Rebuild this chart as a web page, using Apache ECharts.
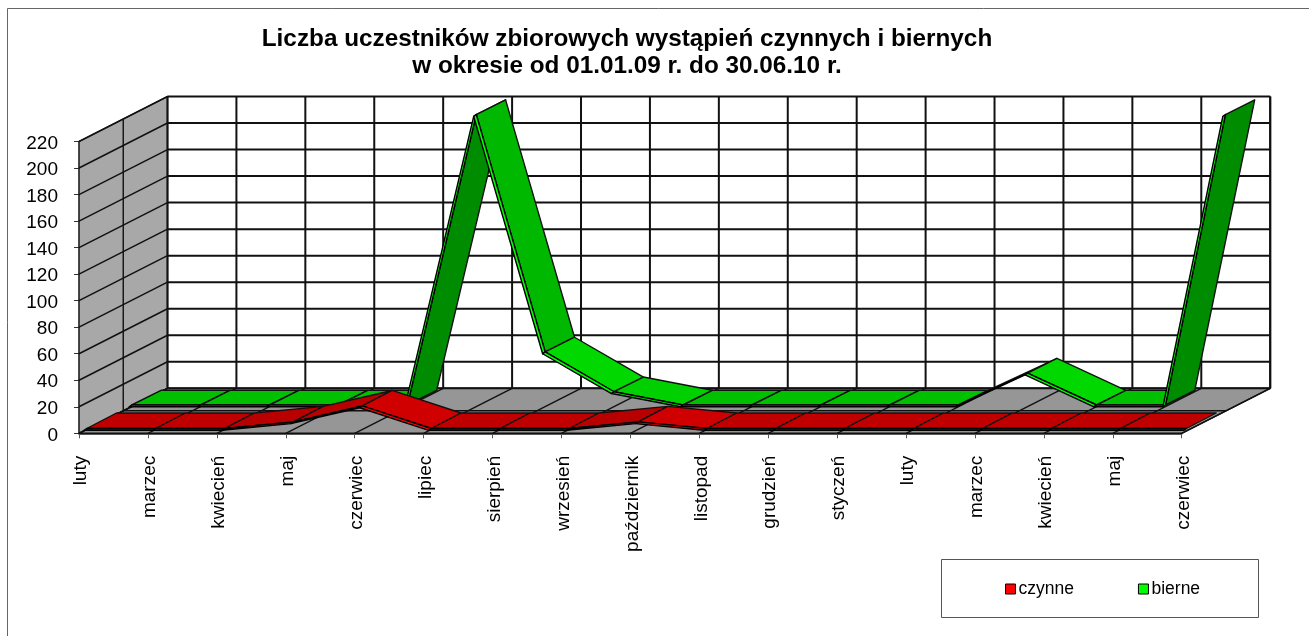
<!DOCTYPE html>
<html lang="pl">
<head>
    <meta charset="UTF-8">
    <title>Liczba uczestników</title>
    <script src="https://cdn.jsdelivr.net/npm/echarts@6/dist/echarts.min.js"></script>
    <style>
        html, body { margin: 0; padding: 0; background: #fff; }
    </style>
</head>
<body>
    <div id="main" style="width: 1309px; height: 636px;"></div>
    <script>
    var categories = ['luty','marzec','kwiecień','maj','czerwiec','lipiec','sierpień','wrzesień','październik','listopad','grudzień','styczeń','luty','marzec','kwiecień','maj','czerwiec'];
    var czynne = [0,0,0,5,17,0,0,0,5,0,0,0,0,0,0,0,0];
    var bierne = [0,0,0,0,0,219,40,10,0,0,0,0,0,24,0,0,219];
    var yMax = 220;
    var yStep = 20;

    var myChart = echarts.init(document.getElementById('main'));

    // przesuniecie glebokosci wykresu (tylna sciana wzgledem przedniej osi)
    var depthX = 88.5;
    var depthY = -45;

    function poly(points, fill, stroke, lw) {
        return {
            type: 'polygon',
            shape: { points: points },
            style: { fill: fill, stroke: stroke || '#000', lineWidth: lw === undefined ? 1 : lw, lineJoin: 'round' },
            silent: true
        };
    }
    function line(a, b, lw, color) {
        return {
            type: 'line',
            shape: { x1: a[0], y1: a[1], x2: b[0], y2: b[1] },
            style: { stroke: color || '#111', lineWidth: lw },
            silent: true
        };
    }

    // sciany i podloga
    function renderWalls(params, api) {
        var last = categories.length - 1;
        var p00 = api.coord([0, 0]);
        var p01 = api.coord([0, yMax]);
        var p10 = api.coord([last, 0]);
        var p11 = api.coord([last, yMax]);
        var shift = function (p, f) { return [p[0] + depthX * f, p[1] + depthY * f]; };
        var items = [];
        items.push(poly([shift(p01, 1), shift(p11, 1), shift(p10, 1), shift(p00, 1)], '#fff', 'none', 0));
        items.push(poly([p00, p01, shift(p01, 1), shift(p00, 1)], '#a8a8a8', '#111', 1.4));
        items.push(poly([p00, p10, shift(p10, 1), shift(p00, 1)], '#969696', '#111', 1.4));
        var i, a;
        for (i = 0; i <= yMax; i += yStep) {
            a = api.coord([0, i]);
            items.push(line(a, shift(a, 1), 1.5));
            items.push(line(shift(a, 1), shift(api.coord([last, i]), 1), 2));
        }
        for (i = 0; i <= last; i++) {
            a = api.coord([i, 0]);
            items.push(line(a, shift(a, 1), 1.4));
            items.push(line(shift(a, 1), shift(api.coord([i, yMax]), 1), 2));
        }
        // srodkowa linia glebokosci
        items.push(line(shift(p00, 0.5), shift(p01, 0.5), 1.4));
        items.push(line(shift(p00, 0.5), shift(p10, 0.5), 1.4));
        items.push(line(shift(p10, 1), shift(p11, 1), 2));
        return { type: 'group', children: items };
    }

    // kolor wstegi zalezny od nachylenia odcinka
    function shade(rgb, slope) {
        var level = 192;
        if (slope > 1.5) level = 140;
        else if (slope > 0.05) level = 184;
        else if (slope < -1.5) level = 184;
        else if (slope < -0.4) level = 216;
        else if (slope < -0.05) level = 208;
        return rgb === 'r' ? 'rgb(' + level + ',0,0)' : 'rgb(0,' + level + ',0)';
    }

    function ribbon(name, values, rgb, edge, front, back, endInset) {
        return {
            name: name,
            type: 'custom',
            clip: false,
            z: 3,
            itemStyle: { color: edge },
            data: values.slice(0, -1).map(function (v, i) { return [i, v, values[i + 1]]; }),
            encode: { x: 0, y: 1 },
            renderItem: function (params, api) {
                var i = api.value(0);
                var a = api.coord([i, api.value(1)]);
                var b = api.coord([i + 1, api.value(2)]);
                if (i + 1 === values.length - 1) b[0] -= endInset;
                var f1 = [a[0] + front[0], a[1] + front[1]];
                var f2 = [b[0] + front[0], b[1] + front[1]];
                var b1 = [a[0] + back[0], a[1] + back[1]];
                var b2 = [b[0] + back[0], b[1] + back[1]];
                var off = function (p) { return [p[0] - 2.6, p[1] + 1.8]; };
                var slope = (f1[1] - f2[1]) / (f2[0] - f1[0]);
                return {
                    type: 'group',
                    children: [
                        poly([f1, f2, b2, b1], shade(rgb, slope), '#111', 1.4),
                        poly([off(f1), off(f2), f2, f1], edge, '#000', 1.4)
                    ]
                };
            }
        };
    }

    var labelFont = 'Liberation Sans, Arial, sans-serif';

    var option = {
        animation: false,
        backgroundColor: '#fff',
        color: ['#ff0000', '#00ff00'],
        title: {
            text: 'Liczba uczestników zbiorowych wystąpień czynnych i biernych\nw okresie od 01.01.09 r. do 30.06.10 r.',
            left: 622,
            top: 21,
            textAlign: 'center',
            textStyle: { fontFamily: labelFont, fontSize: 24.3, fontWeight: 'bold', color: '#000', lineHeight: 27, align: 'center' }
        },
        legend: {
            data: [
                { name: 'czynne', itemStyle: { color: '#ff0000' } },
                { name: 'bierne', itemStyle: { color: '#00ff00' } }
            ],
            left: 1005,
            top: 580,
            itemWidth: 10,
            itemHeight: 10,
            itemGap: 64,
            icon: 'rect',
            padding: 0,
            itemStyle: { borderColor: '#000', borderWidth: 1 },
            textStyle: { fontFamily: labelFont, fontSize: 17.5, color: '#000', padding: [0, 0, 0, -2] }
        },
        grid: { left: 79, top: 141.5, width: 1102.7, height: 291.8 },
        xAxis: {
            type: 'category',
            data: categories,
            boundaryGap: false,
            axisLine: { show: true, lineStyle: { color: '#222', width: 1.6 } },
            axisTick: { show: true, alignWithLabel: true, length: 5, interval: 0, lineStyle: { color: '#555' } },
            axisLabel: { interval: 0, rotate: 90, margin: 22.5, verticalAlign: 'top', lineHeight: 4, fontFamily: labelFont, fontSize: 19, color: '#000' },
            splitLine: { show: false }
        },
        yAxis: {
            type: 'value',
            min: 0,
            max: yMax,
            interval: yStep,
            axisLine: { show: true, lineStyle: { color: '#111', width: 1.4 } },
            axisTick: { show: true, length: 5, lineStyle: { color: '#333' } },
            axisLabel: { margin: 21, verticalAlign: 'top', lineHeight: 4, fontFamily: labelFont, fontSize: 19, color: '#000' },
            splitLine: { show: false }
        },
        graphic: [
            { type: 'polyline', shape: { points: [[7.5, 636], [7.5, 8.5], [1309, 8.5]] }, style: { fill: 'none', stroke: '#666', lineWidth: 1 }, silent: true, z: -1 },
            { type: 'rect', shape: { x: 941.5, y: 559.5, width: 317, height: 58 }, style: { fill: '#fff', stroke: '#555', lineWidth: 1 }, silent: true, z: -1 }
        ],
        series: [
            { type: 'custom', name: 'sciany', clip: false, z: 1, data: [[0, 0]], encode: { x: 0, y: 1 }, renderItem: renderWalls },
            ribbon('bierne', bierne, 'g', '#00ff00', [52.7, -28.3], [82, -43], 9),
            ribbon('czynne', czynne, 'r', '#ff0000', [7.7, -4.8], [37.5, -20.3], 3)
        ]
    };
    myChart.setOption(option);
    </script>
</body>
</html>
